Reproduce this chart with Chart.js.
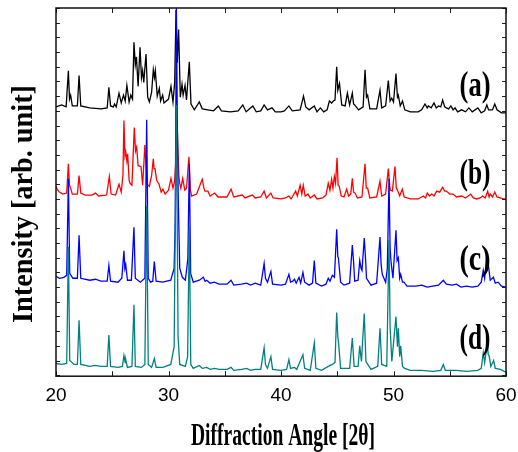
<!DOCTYPE html>
<html>
<head>
<meta charset="utf-8">
<script src="https://cdn.jsdelivr.net/npm/chart.js@4/dist/chart.umd.min.js"></script>
<style>
  body { margin: 0; background: #fff; }
  #wrap { width: 518px; height: 452px; }
</style>
</head>
<body>
<div id="wrap"><canvas id="chart" width="518" height="452"></canvas></div>
<script>
// 2θ / intensity pairs (intensity already includes the vertical offset of each pattern)
const patternA = [
  [20.0, 275], [20.5, 277], [20.9, 275], [21.1, 312], [21.2, 283], [21.3, 287], [21.45, 276], [21.9, 276],
  [22.05, 307], [22.2, 276], [23.0, 274], [24.0, 273], [24.55, 274], [24.7, 295], [24.85, 276], [25.1, 275],
  [25.2, 278], [25.35, 275], [25.6, 289], [25.8, 279], [26.0, 287], [26.15, 281], [26.3, 297], [26.5, 280],
  [26.65, 287], [26.8, 283], [26.93, 341], [27.05, 318], [27.15, 326], [27.3, 296], [27.47, 336], [27.6, 305],
  [27.7, 312], [27.8, 300], [28.0, 329], [28.15, 285], [28.3, 280], [28.5, 290], [28.65, 313], [28.75, 305],
  [28.83, 312], [29.0, 286], [29.18, 294], [29.3, 281], [29.48, 287], [29.6, 279], [30.0, 283], [30.22, 296],
  [30.4, 280], [30.55, 300], [30.67, 374], [30.78, 320], [30.9, 354], [31.05, 285], [31.2, 298], [31.3, 287],
  [31.47, 297], [31.6, 282], [31.85, 321], [32.0, 278], [32.3, 272], [32.74, 280], [33.0, 273], [33.5, 272],
  [34.0, 271], [34.43, 276], [34.7, 271], [35.5, 270], [36.2, 271], [36.6, 277], [36.9, 270], [37.5, 276],
  [37.8, 270], [38.2, 271], [38.5, 277], [38.8, 272], [39.2, 274], [39.5, 270], [40.0, 270], [40.3, 271],
  [40.7, 276], [41.0, 271], [41.7, 272], [42.0, 286], [42.2, 275], [42.5, 272], [42.96, 276], [43.2, 270],
  [43.5, 274], [43.8, 270], [44.1, 272], [44.3, 281], [44.5, 279], [44.65, 281], [44.8, 282], [44.95, 316],
  [45.05, 292], [45.2, 299], [45.4, 277], [45.7, 276], [45.9, 289], [46.1, 277], [46.34, 289], [46.45, 278],
  [46.55, 277], [46.9, 272], [47.3, 275], [47.47, 313], [47.6, 285], [47.7, 287], [47.9, 273], [48.5, 273],
  [48.8, 292], [48.95, 274], [49.3, 276], [49.54, 302], [49.7, 281], [49.84, 284], [50.0, 280], [50.22, 309],
  [50.35, 285], [50.43, 287], [50.6, 276], [50.8, 281], [51.0, 272], [51.5, 270], [52.2, 270], [52.5, 272],
  [52.8, 278], [53.0, 274], [53.1, 276], [53.35, 274], [53.6, 279], [53.8, 274], [54.0, 276], [54.2, 275],
  [54.37, 282], [54.55, 275], [54.7, 274], [54.9, 273], [55.1, 276], [55.3, 272], [55.47, 274], [55.7, 270],
  [56.06, 272], [56.4, 270], [56.7, 274], [57.0, 270], [57.5, 274], [57.8, 269], [58.1, 271], [58.3, 277],
  [58.45, 272], [58.8, 272], [59.0, 278], [59.2, 272], [59.6, 269], [60.0, 269]
];

const patternB = [
  [20.0, 194], [20.1, 191], [20.3, 188], [20.6, 186], [20.95, 187], [21.1, 217], [21.2, 195], [21.3, 192],
  [21.45, 186], [21.9, 186], [22.05, 205], [22.2, 187], [22.6, 185], [23.2, 185], [23.5, 187], [23.8, 184],
  [24.5, 185], [24.74, 204], [24.9, 186], [25.3, 185], [25.6, 196], [25.8, 188], [25.95, 205], [26.04, 261],
  [26.13, 225], [26.2, 229], [26.3, 220], [26.37, 227], [26.5, 200], [26.58, 197], [26.75, 195], [26.96, 254],
  [27.07, 230], [27.17, 234], [27.3, 215], [27.56, 214], [27.7, 195], [27.9, 236], [28.1, 196], [28.3, 194],
  [28.5, 205], [28.65, 222], [28.72, 212], [28.8, 212], [28.95, 200], [29.16, 196], [29.35, 188], [29.5, 191],
  [29.7, 186], [30.0, 190], [30.22, 202], [30.4, 192], [30.55, 200], [30.8, 248], [30.92, 205], [31.0, 197],
  [31.1, 192], [31.26, 202], [31.45, 190], [31.6, 192], [31.82, 224], [31.95, 190], [32.06, 184], [32.5, 186],
  [33.0, 201], [33.15, 192], [33.24, 189], [33.5, 189], [33.7, 184], [34.1, 187], [34.4, 183], [35.2, 183],
  [35.56, 191], [35.8, 183], [36.56, 185], [36.8, 182], [37.45, 185], [37.7, 182], [38.2, 183], [38.5, 189],
  [38.7, 182], [39.1, 187], [39.3, 182], [40.0, 181], [40.4, 182], [40.7, 184], [40.9, 181], [41.3, 189],
  [41.45, 184], [41.7, 195], [41.85, 186], [41.98, 195], [42.15, 184], [42.4, 186], [42.6, 182], [42.96, 185],
  [43.2, 181], [43.7, 182], [44.0, 185], [44.2, 197], [44.35, 190], [44.5, 201], [44.62, 192], [44.74, 204],
  [44.85, 197], [44.98, 223], [45.08, 195], [45.18, 194], [45.35, 184], [45.6, 183], [45.84, 191], [46.0, 184],
  [46.2, 186], [46.34, 202], [46.45, 188], [46.58, 187], [46.8, 182], [47.2, 183], [47.47, 217], [47.58, 192],
  [47.7, 192], [47.9, 182], [48.5, 183], [48.8, 199], [48.95, 184], [49.3, 186], [49.54, 212], [49.7, 190],
  [49.9, 189], [50.13, 214], [50.25, 192], [50.35, 190], [50.55, 184], [50.78, 191], [50.95, 183], [51.5, 181],
  [52.2, 181], [52.65, 184], [52.85, 182], [53.0, 187], [53.2, 184], [53.4, 186], [53.6, 184], [53.84, 189],
  [54.1, 188], [54.37, 193], [54.55, 189], [54.7, 189], [55.0, 186], [55.3, 186], [55.6, 183], [56.06, 184],
  [56.4, 182], [56.86, 186], [57.1, 182], [57.4, 181], [57.7, 182], [57.93, 184], [58.15, 182], [58.37, 189],
  [58.5, 183], [58.6, 186], [58.8, 183], [59.0, 188], [59.2, 183], [59.5, 182], [59.77, 181], [60.0, 181]
];

const patternC = [
  [20.0, 102], [20.3, 100], [20.7, 101], [20.95, 103], [21.1, 202], [21.22, 105], [21.5, 100], [21.9, 100],
  [22.05, 144], [22.2, 100], [23.0, 98], [23.5, 99], [24.0, 97], [24.55, 97], [24.7, 113], [24.85, 97],
  [25.5, 96], [25.85, 100], [26.04, 128], [26.12, 110], [26.2, 114], [26.35, 98], [26.7, 98], [26.93, 152],
  [27.05, 100], [27.5, 96], [27.9, 100], [28.06, 262], [28.2, 100], [28.4, 96], [28.6, 97], [28.74, 117],
  [28.9, 97], [29.5, 96], [30.2, 98], [30.5, 110], [30.6, 160], [30.7, 376], [30.8, 240], [30.87, 180],
  [31.0, 110], [31.23, 101], [31.5, 98], [31.72, 120], [31.85, 217], [31.97, 105], [32.2, 96], [32.74, 98],
  [33.1, 101], [33.25, 97], [33.4, 98], [33.7, 95], [34.07, 96], [34.5, 94], [35.2, 94], [35.56, 98],
  [35.8, 93], [36.5, 94], [36.95, 95], [37.3, 93], [37.7, 95], [38.2, 93], [38.5, 115], [38.62, 100],
  [38.8, 96], [39.1, 107], [39.25, 94], [40.0, 93], [40.4, 94], [40.7, 104], [40.85, 96], [41.05, 97],
  [41.2, 99], [41.35, 95], [41.6, 101], [41.75, 95], [41.95, 106], [42.1, 96], [42.5, 93], [42.8, 95],
  [42.96, 118], [43.1, 95], [43.6, 92], [44.0, 94], [44.2, 100], [44.35, 97], [44.56, 103], [44.75, 101],
  [44.95, 150], [45.05, 122], [45.1, 121], [45.3, 96], [45.6, 93], [46.1, 95], [46.34, 134], [46.45, 117],
  [46.55, 97], [46.85, 98], [47.0, 118], [47.12, 110], [47.2, 108], [47.4, 141], [47.52, 119], [47.6, 100],
  [48.0, 93], [48.5, 95], [48.8, 142], [48.9, 114], [49.0, 104], [49.3, 96], [49.45, 110], [49.6, 202],
  [49.7, 130], [49.78, 117], [49.95, 100], [50.22, 149], [50.32, 118], [50.43, 121], [50.55, 100], [50.64, 104],
  [50.8, 96], [50.93, 96], [51.2, 92], [52.0, 92], [52.5, 93], [53.0, 91], [53.5, 92], [54.0, 93],
  [54.43, 98], [54.7, 94], [55.2, 93], [55.6, 94], [56.0, 91], [56.5, 92], [57.0, 91], [57.5, 92],
  [57.8, 96], [57.98, 108], [58.1, 100], [58.3, 122], [58.4, 112], [58.46, 111], [58.6, 98], [58.88, 101],
  [59.05, 95], [59.3, 96], [59.6, 92], [60.0, 91]
];

const patternD = [
  [20.0, 13], [20.5, 12], [20.95, 13], [21.1, 132], [21.22, 16], [21.6, 12], [21.9, 12], [22.05, 57],
  [22.2, 12], [23.0, 10], [23.5, 11], [24.0, 10], [24.55, 10], [24.7, 42], [24.85, 10], [25.5, 9],
  [25.9, 10], [26.04, 21], [26.15, 14], [26.2, 17], [26.35, 9], [26.75, 10], [26.93, 73], [27.05, 10],
  [27.6, 9], [27.9, 12], [28.06, 174], [28.2, 12], [28.5, 9], [28.74, 18], [28.9, 9], [29.5, 9],
  [30.2, 12], [30.5, 30], [30.7, 277], [30.85, 40], [31.0, 12], [31.5, 10], [31.7, 20], [31.85, 154],
  [31.98, 12], [32.2, 8], [32.74, 11], [33.0, 8], [33.4, 9], [33.7, 7], [34.1, 8], [34.5, 7],
  [35.2, 7], [35.56, 9], [35.8, 6], [36.5, 7], [36.95, 8], [37.3, 6], [37.7, 7], [38.2, 7],
  [38.5, 29], [38.62, 12], [38.8, 8], [39.1, 20], [39.25, 7], [40.0, 6], [40.5, 7], [40.7, 17],
  [40.85, 8], [41.2, 9], [41.4, 7], [41.95, 22], [42.1, 8], [42.6, 6], [42.96, 34], [43.1, 8],
  [43.6, 6], [44.2, 10], [44.56, 12], [44.8, 14], [44.95, 65], [45.05, 40], [45.1, 36], [45.3, 8],
  [46.1, 8], [46.34, 39], [46.5, 10], [46.85, 10], [47.0, 31], [47.15, 15], [47.4, 64], [47.55, 15],
  [48.0, 7], [48.6, 10], [48.8, 49], [48.95, 12], [49.4, 10], [49.6, 139], [49.7, 50], [49.85, 15],
  [50.22, 61], [50.35, 30], [50.43, 49], [50.55, 20], [50.64, 31], [50.8, 10], [51.0, 8], [51.5, 6],
  [52.5, 6], [53.5, 5], [54.2, 6], [54.43, 12], [54.6, 6], [55.6, 6], [56.5, 5], [57.5, 6],
  [57.8, 8], [57.98, 24], [58.1, 14], [58.34, 34], [58.42, 22], [58.5, 21], [58.65, 10], [58.9, 16],
  [59.05, 8], [59.5, 7], [60.0, 4]
];

const sampleLabels = ["(a)", "(b)", "(c)", "(d)"];
const labelY = [296, 206, 118, 37];
const xTicks = [20, 30, 40, 50, 60];
const xTitle = "Diffraction Angle [2θ]";
const yTitle = "Intensity [arb. unit]";

const toPoints = arr => arr.map(p => ({ x: p[0], y: p[1] }));

// axis frame, inward tick marks, squeezed serif titles and the (a)-(d) labels
const decorPlugin = {
  id: "decor",
  afterDatasetsDraw(chart) {
    const ctx = chart.ctx;
    const a = chart.chartArea;
    const xs = chart.scales.x;
    const ys = chart.scales.y;
    ctx.save();
    ctx.strokeStyle = "#222";
    ctx.lineWidth = 1;
    for (let v = 20; v <= 60; v += 5) {
      const px = Math.round(xs.getPixelForValue(v)) + 0.5;
      ctx.beginPath();
      ctx.moveTo(px, a.bottom); ctx.lineTo(px, a.bottom - 5);
      ctx.moveTo(px, a.top); ctx.lineTo(px, a.top + 5);
      ctx.stroke();
    }
    for (let v = 1; v <= 376; v += 15) {
      const py = Math.round(ys.getPixelForValue(v)) + 0.5;
      ctx.beginPath();
      ctx.moveTo(a.left, py); ctx.lineTo(a.left + 4, py);
      ctx.moveTo(a.right, py); ctx.lineTo(a.right - 4, py);
      ctx.stroke();
    }
    ctx.lineWidth = 1.5;
    ctx.strokeStyle = "#111";
    ctx.strokeRect(a.left, a.top, a.right - a.left, a.bottom - a.top);

    ctx.fillStyle = "#000";
    ctx.textAlign = "center";
    ctx.textBaseline = "middle";

    // sample labels
    ctx.font = 'bold 36px "Liberation Serif"';
    sampleLabels.forEach((t, i) => {
      const w = ctx.measureText(t).width;
      ctx.save();
      ctx.translate(xs.getPixelForValue(57.25), ys.getPixelForValue(labelY[i]));
      ctx.scale(31 / w, 1);
      ctx.fillText(t, 0, 0);
      ctx.restore();
    });

    // x title
    ctx.font = 'bold 31px "Liberation Serif"';
    let w = ctx.measureText(xTitle).width;
    ctx.save();
    ctx.translate(283, 437);
    ctx.scale(184 / w, 1);
    ctx.fillText(xTitle, 0, 0);
    ctx.restore();

    // y title
    ctx.font = 'bold 30px "Liberation Serif"';
    w = ctx.measureText(yTitle).width;
    ctx.save();
    ctx.translate(24, 204);
    ctx.rotate(-Math.PI / 2);
    ctx.scale(238 / w, 1);
    ctx.fillText(yTitle, 0, 0);
    ctx.restore();
    ctx.restore();
  }
};

const ctx = document.getElementById("chart").getContext("2d");
new Chart(ctx, {
  type: "line",
  data: {
    datasets: [
      { label: "(d)", data: toPoints(patternD), borderColor: "rgb(0,128,128)", order: 0 },
      { label: "(c)", data: toPoints(patternC), borderColor: "rgb(0,0,255)", order: 1 },
      { label: "(a)", data: toPoints(patternA), borderColor: "rgb(0,0,0)", order: 2 },
      { label: "(b)", data: toPoints(patternB), borderColor: "rgb(255,0,0)", order: 3 }
    ]
  },
  options: {
    responsive: false,
    animation: false,
    layout: { padding: { left: 56, right: 12, top: 8, bottom: 37 } },
    elements: {
      line: { borderWidth: 1.3, tension: 0, fill: false },
      point: { radius: 0 }
    },
    plugins: { legend: { display: false }, tooltip: { enabled: false } },
    scales: {
      x: {
        type: "linear",
        min: 20,
        max: 60,
        afterBuildTicks: axis => { axis.ticks = xTicks.map(v => ({ value: v })); },
        afterFit: axis => { axis.paddingLeft = 0; axis.paddingRight = 0; },
        ticks: {
          color: "#000",
          padding: 8,
          autoSkip: false,
          maxRotation: 0,
          font: { family: "Liberation Sans", size: 19 }
        },
        grid: { display: false, drawTicks: false },
        border: { display: false }
      },
      y: {
        display: false,
        min: 0,
        max: 376
      }
    }
  },
  plugins: [decorPlugin]
});
</script>
</body>
</html>
